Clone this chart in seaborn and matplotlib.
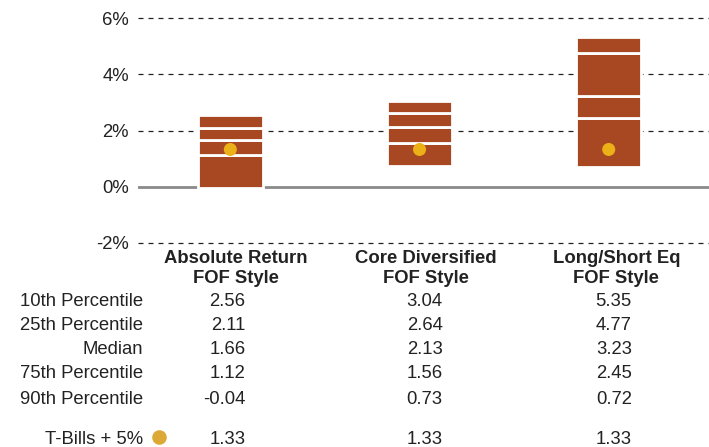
import numpy as np
import pandas as pd
import matplotlib
matplotlib.use('Agg')
import matplotlib.pyplot as plt
import matplotlib.transforms as mtransforms
import seaborn as sns

styles = ['Absolute Return\nFOF Style', 'Core Diversified\nFOF Style', 'Long/Short Eq\nFOF Style']
p10 = [2.56, 3.04, 5.35]
p25 = [2.11, 2.64, 4.77]
median = [1.66, 2.13, 3.23]
p75 = [1.12, 1.56, 2.45]
p90 = [-0.04, 0.73, 0.72]
tbills = [1.33, 1.33, 1.33]
row_names = ['10th Percentile', '25th Percentile', 'Median', '75th Percentile', '90th Percentile']
yticks = [-2, 0, 2, 4, 6]

bar_color = '#A84823'
dot_color = '#EBB117'
txt_color = '#222222'
fs = 13.3

sns.set_style('white')
plt.rcParams['font.family'] = ['Liberation Sans', 'DejaVu Sans']

fig = plt.figure(figsize=(7.09, 4.47), dpi=100)
ax = fig.add_axes([138 / 709, 0.4501, 571 / 709, 0.5152])

# grid lines
for t in yticks:
    if t == 0:
        ax.axhline(0, color='#8a8a8a', lw=2, zorder=1)
    else:
        ax.axhline(t, color='#222222', lw=0.9, ls=(0, (4, 4)), zorder=1)

# stacked segments p90 -> p75 -> median -> p25 -> p10
levels = [p90, p75, median, p25, p10]
df = pd.DataFrame({'style': styles})
for lo, hi in zip(levels[:-1], levels[1:]):
    heights = np.array(hi) - np.array(lo)
    sns.barplot(x=df['style'], y=heights, bottom=np.array(lo), color=bar_color,
                saturation=1, edgecolor='white', linewidth=2, width=0.344,
                errorbar=None, ax=ax, zorder=2)

sns.scatterplot(x=np.arange(len(styles)), y=tbills, color=dot_color, s=88,
                edgecolor='none', ax=ax, zorder=3)

ax.set_xlim(-0.488, 2.53)
ax.set_ylim(-2.1, 6.1)
ax.set_yticks(yticks)
ax.set_yticklabels([f'{t}%' for t in yticks], fontsize=fs, color=txt_color)
ax.tick_params(axis='y', length=0, pad=6.5)
ax.set_xticks([])
ax.set_xlabel('')
ax.set_ylabel('')
for s in ax.spines.values():
    s.set_visible(False)

# table below the chart
trans = mtransforms.blended_transform_factory(ax.transData, fig.transFigure)
header_x = [0.03, 1.035, 2.04]
value_x = [0.079, 1.122, 2.122]
for i, name in enumerate(styles):
    ax.text(header_x[i], 1 - 268.5 / 447, name, transform=trans, ha='center', va='center',
            fontsize=fs, fontweight='bold', color=txt_color, linespacing=1.28)

row_y = [302, 326, 350, 374, 399]
for r, (name, vals) in enumerate(zip(row_names, [p10, p25, median, p75, p90])):
    y = 1 - row_y[r] / 447
    fig.text(143 / 709, y, name, ha='right', va='center', fontsize=fs, color=txt_color)
    for i, v in enumerate(vals):
        ax.text(value_x[i], y, f'{v:.2f}', transform=trans, ha='right', va='center',
                fontsize=fs, color=txt_color)

y = 1 - 439 / 447
fig.text(143 / 709, y, 'T-Bills + 5%', ha='right', va='center', fontsize=fs, color=txt_color)
fig.add_artist(plt.Line2D([159 / 709], [1 - 437 / 447], marker='o', markersize=10.5,
                          color='#DDA936', markeredgewidth=0, transform=fig.transFigure))
for i, v in enumerate(tbills):
    ax.text(value_x[i], y, f'{v:.2f}', transform=trans, ha='right', va='center',
            fontsize=fs, color=txt_color)

fig.savefig('out.png', dpi=100)
